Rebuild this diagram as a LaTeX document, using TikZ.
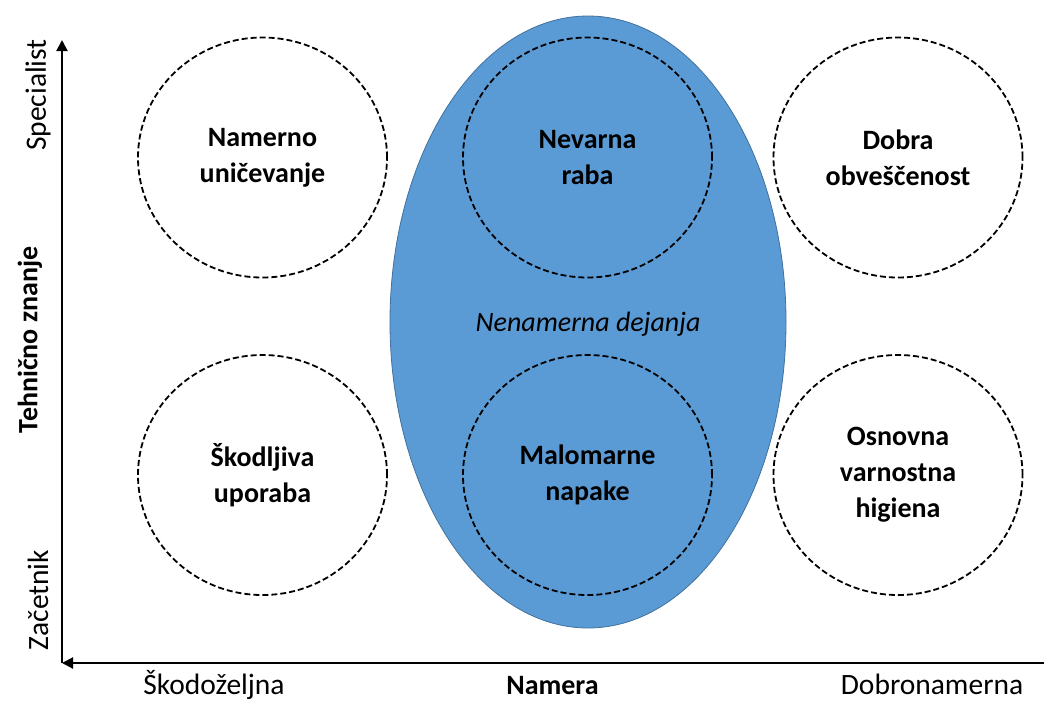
\documentclass[tikz,border=0pt]{standalone}
\usepackage{fontspec}
\setmainfont{Carlito}
\usetikzlibrary{shapes.geometric,arrows.meta}
\definecolor{zoneblue}{HTML}{5B9BD5}
\definecolor{zoneedge}{HTML}{41719C}
\tikzset{
  zone/.style={ellipse, draw=zoneedge, line width=0.8pt, fill=zoneblue,
    minimum width=396pt, minimum height=612pt, inner sep=0pt},
  cell/.style={ellipse, draw=black, line width=1.8pt, dash pattern=on 6pt off 3pt,
    minimum width=249pt, minimum height=240pt, inner sep=0pt,
    align=center, font=\fontsize{28}{36}\selectfont\bfseries},
  axis/.style={line width=2pt, -{Triangle[length=11pt,width=11pt]}},
  axlabel/.style={font=\fontsize{29.5}{34}\selectfont, inner sep=0pt},
  axtitle/.style={font=\fontsize{28}{34}\selectfont\bfseries, inner sep=0pt}
}
\begin{document}
\begin{tikzpicture}[x=1pt,y=-1pt]
  \useasboundingbox (0,0) rectangle (1044,702);

  % unintentional zone
  \node[zone] (zone) at (588,322) {};
  \node[font=\fontsize{28}{34}\selectfont\itshape] (zonelabel) at (588,324) {Nenamerna dejanja};

  % behaviour cells
  \node[cell] (c11) at (262.5,157.5) {Namerno\\uničevanje};
  \node[cell] (c12) at (587.5,157.5) {Nevarna\\raba};
  \node[cell] (c13) at (898,157.5) {Dobra\\obveščenost};
  \node[cell] (c21) at (262.5,475) {Škodljiva\\uporaba};
  \node[cell] (c22) at (587.5,475) {Malomarne\\napake};
  \node[cell] (c23) at (898,475) {Osnovna\\varnostna\\higiena};

  % axes
  \coordinate (origin) at (62,663);
  \coordinate (ytop) at (62,40);
  \coordinate (xend) at (1044,663);
  \draw[axis] (origin) -- (ytop);
  \draw[axis] (xend) -- (origin);

  % axis labels
  \node[axlabel, anchor=base] (xlow) at (214,694) {Škodoželjna};
  \node[axtitle, anchor=base] (xtitle) at (552.5,694) {Namera};
  \node[axlabel, anchor=base] (xhigh) at (932,694) {Dobronamerna};
  \node[axlabel, rotate=90] (yhigh) at (38,95) {Specialist};
  \node[axtitle, rotate=90] (ytitle) at (30,340) {Tehnično znanje};
  \node[axlabel, rotate=90] (ylow) at (38,600) {Začetnik};
\end{tikzpicture}
\end{document}
